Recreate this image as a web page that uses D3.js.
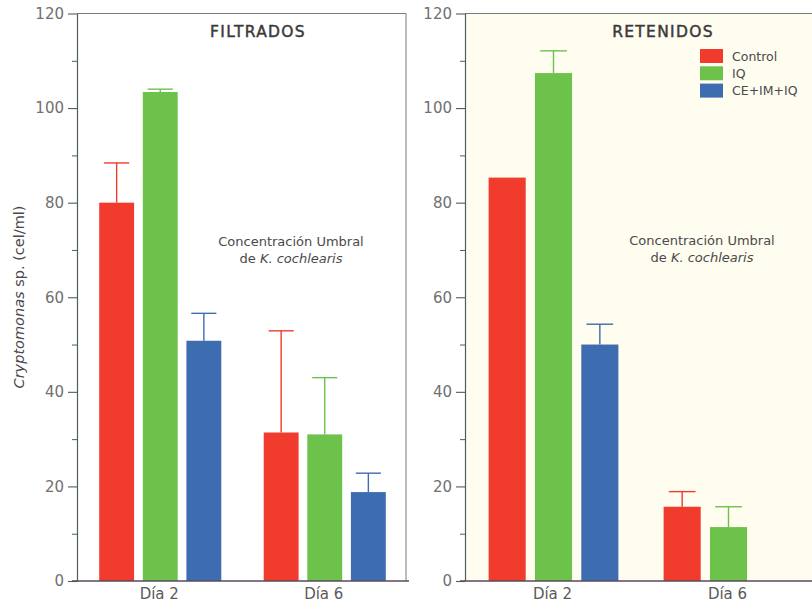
<!DOCTYPE html>
<html>
<head>
<meta charset="utf-8">
<script src="https://cdn.jsdelivr.net/npm/d3@7"></script>
<style>
  html, body { margin: 0; padding: 0; background: #ffffff; }
  svg { display: block; }
  text { font-family: "DejaVu Sans", Verdana, sans-serif; }
</style>
</head>
<body>
<svg id="chart" width="812" height="605"></svg>
<script>
// Sampling days and treatments
const days = ["Día 2", "Día 6"];
const series = ["Control", "IQ", "CE+IM+IQ"];
const seriesColors = ["#f03b2d", "#6dc24c", "#3e6cb0"];

// Mean abundance (cel/ml) per treatment, one value per day
const filtradosControl = [80.0, 31.4];
const filtradosIQ = [103.4, 31.0];
const filtradosCE = [50.8, 18.8];
// Upper error (cel/ml)
const filtradosControlErr = [8.4, 21.5];
const filtradosIQErr = [0.6, 12.0];
const filtradosCEErr = [5.8, 4.0];

const retenidosControl = [85.3, 15.7];
const retenidosIQ = [107.4, 11.4];
const retenidosCE = [50.0, null];
const retenidosControlErr = [0, 3.2];
const retenidosIQErr = [4.7, 4.3];
const retenidosCEErr = [4.3, null];

const yTicks = [0, 20, 40, 60, 80, 100, 120];
const yMinorTicks = [10, 30, 50, 70, 90, 110];

function buildRows(means, errs) {
  const rows = [];
  days.forEach((d, di) => {
    series.forEach((s, si) => {
      const v = means[si][di];
      if (v == null) return;
      rows.push({ day: d, series: s, idx: si, value: v, err: errs[si][di] });
    });
  });
  return rows;
}

const svg = d3.select("#chart");
const plotTop = 13.5, plotBottom = 581;
const y = d3.scaleLinear().domain([0, 120]).range([plotBottom, plotTop]);

function drawPanel(opts) {
  const { left, right, title, titleX, rows, background, noteX, noteY, legend } = opts;
  const g = svg.append("g");

  if (background) {
    g.append("rect").attr("x", left).attr("y", plotTop)
      .attr("width", right - left).attr("height", plotBottom - plotTop)
      .attr("fill", background);
  }

  const x0 = d3.scaleBand().domain(days).range([left, right]).padding(0);
  const inner = x0.bandwidth() * 0.135;
  const x1 = d3.scaleBand().domain(series)
    .range([inner, x0.bandwidth() - inner + 2]).paddingInner(0.2).paddingOuter(0);

  // frame: top and right edges
  g.append("line").attr("x1", left).attr("x2", right).attr("y1", plotTop).attr("y2", plotTop)
    .attr("stroke", "#6f7f7f").attr("stroke-width", 1);
  g.append("line").attr("x1", right).attr("x2", right).attr("y1", plotTop).attr("y2", plotBottom)
    .attr("stroke", "#6f7f7f").attr("stroke-width", 1);

  // bars
  g.selectAll("rect.bar").data(rows).join("rect")
    .attr("class", "bar")
    .attr("x", d => x0(d.day) + x1(d.series))
    .attr("y", d => y(d.value))
    .attr("width", x1.bandwidth())
    .attr("height", d => y(0) - y(d.value))
    .attr("fill", d => seriesColors[d.idx]);

  // upper error bars
  const capW = x1.bandwidth() * 0.72;
  const eb = g.selectAll("g.err").data(rows.filter(d => d.err > 0)).join("g").attr("class", "err");
  eb.append("line")
    .attr("x1", d => x0(d.day) + x1(d.series) + x1.bandwidth() / 2)
    .attr("x2", d => x0(d.day) + x1(d.series) + x1.bandwidth() / 2)
    .attr("y1", d => y(d.value))
    .attr("y2", d => y(d.value + d.err))
    .attr("stroke", d => seriesColors[d.idx]).attr("stroke-width", 1.4);
  eb.append("line")
    .attr("x1", d => x0(d.day) + x1(d.series) + x1.bandwidth() / 2 - capW / 2)
    .attr("x2", d => x0(d.day) + x1(d.series) + x1.bandwidth() / 2 + capW / 2)
    .attr("y1", d => y(d.value + d.err))
    .attr("y2", d => y(d.value + d.err))
    .attr("stroke", d => seriesColors[d.idx]).attr("stroke-width", 1.4);

  // y axis with major and minor ticks
  const yAxis = d3.axisLeft(y).tickValues(yTicks).tickSize(9).tickPadding(4).tickSizeOuter(0);
  const ya = g.append("g").attr("transform", `translate(${left},0)`).call(yAxis);
  ya.select(".domain").attr("stroke", "#4f5d5d").attr("stroke-width", 1.2);
  ya.selectAll(".tick line").attr("stroke", "#4f5d5d").attr("stroke-width", 1.1);
  ya.selectAll(".tick text").attr("font-size", 15).attr("fill", "#707070")
    .attr("font-family", "'DejaVu Sans', sans-serif");
  const yMinor = d3.axisLeft(y).tickValues(yMinorTicks).tickSize(5).tickFormat("").tickSizeOuter(0);
  const ym = g.append("g").attr("transform", `translate(${left},0)`).call(yMinor);
  ym.select(".domain").remove();
  ym.selectAll(".tick line").attr("stroke", "#4f5d5d").attr("stroke-width", 1);

  // x axis
  const xAxis = d3.axisBottom(x0).tickSize(0).tickPadding(7);
  const xa = g.append("g").attr("transform", `translate(0,${plotBottom})`).call(xAxis);
  xa.select(".domain").attr("stroke", "#5a4a5e").attr("stroke-width", 1.4)
    .attr("d", `M${left - 5},0H${right + 3}`);
  xa.selectAll(".tick text").attr("font-size", 15).attr("fill", "#5a5a5a")
    .attr("font-family", "'DejaVu Sans', sans-serif");

  // panel title
  g.append("text").attr("x", titleX).attr("y", 37).attr("text-anchor", "middle")
    .attr("font-size", 15.5).attr("letter-spacing", 1.3)
    .attr("fill", "#3a3a3a").attr("stroke", "#3a3a3a").attr("stroke-width", 0.45)
    .text(title);

  // threshold note
  const note = g.append("text").attr("text-anchor", "middle").attr("font-size", 13).attr("fill", "#4a4a4a");
  note.append("tspan").attr("x", noteX).attr("y", noteY).text("Concentración Umbral");
  const l2 = note.append("tspan").attr("x", noteX).attr("y", noteY + 17);
  l2.append("tspan").text("de ");
  l2.append("tspan").attr("font-style", "italic").text("K. cochlearis");

  if (legend) {
    const lg = g.append("g").attr("transform", "translate(700,49)");
    series.forEach((s, i) => {
      lg.append("rect").attr("x", 0).attr("y", i * 17.3).attr("width", 23).attr("height", 14)
        .attr("fill", seriesColors[i]);
      lg.append("text").attr("x", 32).attr("y", i * 17.3 + 11.5)
        .attr("font-size", 12.5).attr("fill", "#4a4a4a").text(s);
    });
  }
}

drawPanel({
  left: 77, right: 406, title: "FILTRADOS", titleX: 258,
  rows: buildRows([filtradosControl, filtradosIQ, filtradosCE],
                  [filtradosControlErr, filtradosIQErr, filtradosCEErr]),
  background: null, noteX: 291, noteY: 246, legend: false
});

drawPanel({
  left: 465, right: 815, title: "RETENIDOS", titleX: 663,
  rows: buildRows([retenidosControl, retenidosIQ, retenidosCE],
                  [retenidosControlErr, retenidosIQErr, retenidosCEErr]),
  background: "#fffcf0", noteX: 702, noteY: 245, legend: true
});

// shared y-axis title
const yt = svg.append("text")
  .attr("transform", "translate(24,297) rotate(-90)")
  .attr("text-anchor", "middle").attr("font-size", 14.5).attr("fill", "#4a4a4a");
yt.append("tspan").attr("font-style", "italic").text("Cryptomonas");
yt.append("tspan").text(" sp. (cel/ml)");
</script>
</body>
</html>
